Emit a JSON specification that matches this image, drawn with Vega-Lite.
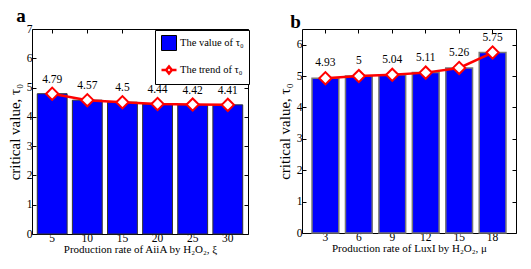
{
  "$schema": "https://vega.github.io/schema/vega-lite/v6.json",
  "background": "white",
  "padding": {"left": 6, "top": 6, "right": 8, "bottom": 4},
  "spacing": 27,
  "config": {
    "view": {"stroke": "black", "strokeWidth": 1},
    "font": "Liberation Serif",
    "axis": {
      "labelFont": "Liberation Serif", "labelFontSize": 11.5, "labelColor": "black",
      "titleFont": "Liberation Serif", "titleColor": "black", "titleFontWeight": "normal",
      "grid": false, "domain": false, "tickColor": "black", "tickSize": -4, "labelPadding": 4
    },
    "legend": {
      "labelFont": "Liberation Serif", "title": null, "orient": "none", "legendX": 123, "legendY": 1,
      "strokeColor": "black", "fillColor": "white", "padding": 5, "labelFontSize": 10.5, "labelColor": "black",
      "symbolSize": 225, "rowPadding": 8, "labelOffset": 2, "symbolOpacity": 1
    }
  },
  "datasets": {
    "a": [
      {"x": "5", "v": 4.79}, {"x": "10", "v": 4.57}, {"x": "15", "v": 4.5},
      {"x": "20", "v": 4.44}, {"x": "25", "v": 4.42}, {"x": "30", "v": 4.41}
    ],
    "b": [
      {"x": "3", "v": 4.93}, {"x": "6", "v": 5}, {"x": "9", "v": 5.04},
      {"x": "12", "v": 5.11}, {"x": "15", "v": 5.26}, {"x": "18", "v": 5.75}
    ]
  },
  "hconcat": [
    {
      "width": 216, "height": 205,
      "title": {"text": "a", "anchor": "start", "frame": "bounds", "fontSize": 19, "font": "Liberation Serif", "fontWeight": "bold", "offset": -3, "dx": 9, "color": "black"},
      "data": {"name": "a"},
      "encoding": {
        "x": {"field": "x", "type": "ordinal", "sort": null,
          "scale": {"paddingInner": 0.15, "paddingOuter": 0.15},
          "axis": {"title": "Production rate of AiiA by H₂O₂, ξ", "titleFontSize": 11, "labelAngle": 0, "titlePadding": 0, "labelPadding": 2}},
        "y": {"field": "v", "type": "quantitative", "scale": {"domain": [0, 7]},
          "axis": {"title": "critical value, τ₀", "titleFontSize": 15, "values": [0,1,2,3,4,5,6,7], "titlePadding": 4}}
      },
      "resolve": {"axis": {"x": "independent", "y": "independent"}},
      "layer": [
        {"mark": {"type": "bar", "fill": "#0000ff", "stroke": "#333", "strokeWidth": 1}},
        {"mark": {"type": "line", "strokeWidth": 2.5, "color": "#ff0000"},
         "encoding": {"x": {"field": "x", "type": "ordinal", "sort": null, "axis": null},
           "y": {"field": "v", "type": "quantitative", "axis": null}}},
        {"mark": {"type": "point", "shape": "diamond", "filled": true, "fill": "white", "stroke": "#ff0000", "strokeWidth": 2, "size": 150, "opacity": 1},
         "encoding": {"x": {"field": "x", "type": "ordinal", "sort": null, "axis": null},
           "y": {"field": "v", "type": "quantitative", "axis": null}}},
        {"mark": {"type": "point", "opacity": 0},
         "encoding": {"x": {"field": "x", "type": "ordinal", "sort": null, "axis": null},
           "y": {"field": "v", "type": "quantitative", "axis": null},
           "shape": {"datum": "The trend of τ₀", "type": "nominal",
             "scale": {"domain": ["The value of τ₀", "The trend of τ₀"], "range": ["square", "M-1,0L-0.38,0M0.38,0L1,0M-0.38,0L0,-0.48L0.38,0L0,0.48Z"]}},
           "fill": {"datum": "The trend of τ₀", "type": "nominal",
             "scale": {"domain": ["The value of τ₀", "The trend of τ₀"], "range": ["#0000ff", "#ffffff"]}},
           "stroke": {"datum": "The trend of τ₀", "type": "nominal",
             "scale": {"domain": ["The value of τ₀", "The trend of τ₀"], "range": ["#000000", "#ff0000"]}},
           "strokeWidth": {"datum": "The trend of τ₀", "type": "ordinal",
             "scale": {"domain": ["The value of τ₀", "The trend of τ₀"], "range": [1, 2.5]}}}},
        {"mark": {"type": "text", "dy": -14, "fontSize": 11.5, "font": "Liberation Serif", "color": "black"},
         "encoding": {"text": {"field": "v", "type": "quantitative", "format": ".3~g"},
           "x": {"field": "x", "type": "ordinal", "sort": null, "axis": {"orient": "top", "labels": false, "title": null}},
           "y": {"field": "v", "type": "quantitative", "axis": {"orient": "right", "labels": false, "title": null, "values": [0,1,2,3,4,5,6,7]}}}}
      ]
    },
    {
      "width": 214, "height": 204,
      "title": {"text": "b", "anchor": "start", "frame": "bounds", "fontSize": 19, "font": "Liberation Serif", "fontWeight": "bold", "offset": -3, "dx": 13, "color": "black"},
      "data": {"name": "b"},
      "encoding": {
        "x": {"field": "x", "type": "ordinal", "sort": null,
          "scale": {"paddingInner": 0.2, "paddingOuter": 0.3},
          "axis": {"title": "Production rate of LuxI by H₂O₂, μ", "titleFontSize": 11, "labelAngle": 0, "titlePadding": 0, "labelPadding": 2}},
        "y": {"field": "v", "type": "quantitative", "scale": {"domain": [0, 6.5]},
          "axis": {"title": "critical value, τ₀", "titleFontSize": 15, "values": [0,1,2,3,4,5,6], "titlePadding": 4}}
      },
      "resolve": {"axis": {"x": "independent", "y": "independent"}},
      "layer": [
        {"mark": {"type": "bar", "fill": "#0000ff", "stroke": "#777", "strokeWidth": 1.5}},
        {"mark": {"type": "line", "strokeWidth": 2.5, "color": "#ff0000"},
         "encoding": {"x": {"field": "x", "type": "ordinal", "sort": null, "axis": null},
           "y": {"field": "v", "type": "quantitative", "axis": null}}},
        {"mark": {"type": "point", "shape": "diamond", "filled": true, "fill": "white", "stroke": "#ff0000", "strokeWidth": 2, "size": 150, "opacity": 1},
         "encoding": {"x": {"field": "x", "type": "ordinal", "sort": null, "axis": null},
           "y": {"field": "v", "type": "quantitative", "axis": null}}},
        {"mark": {"type": "text", "dy": -15, "fontSize": 11.5, "font": "Liberation Serif", "color": "black"},
         "encoding": {"text": {"field": "v", "type": "quantitative", "format": ".3~g"},
           "x": {"field": "x", "type": "ordinal", "sort": null, "axis": {"orient": "top", "labels": false, "title": null}},
           "y": {"field": "v", "type": "quantitative", "axis": {"orient": "right", "labels": false, "title": null, "values": [0,1,2,3,4,5,6]}}}}
      ]
    }
  ]
}
